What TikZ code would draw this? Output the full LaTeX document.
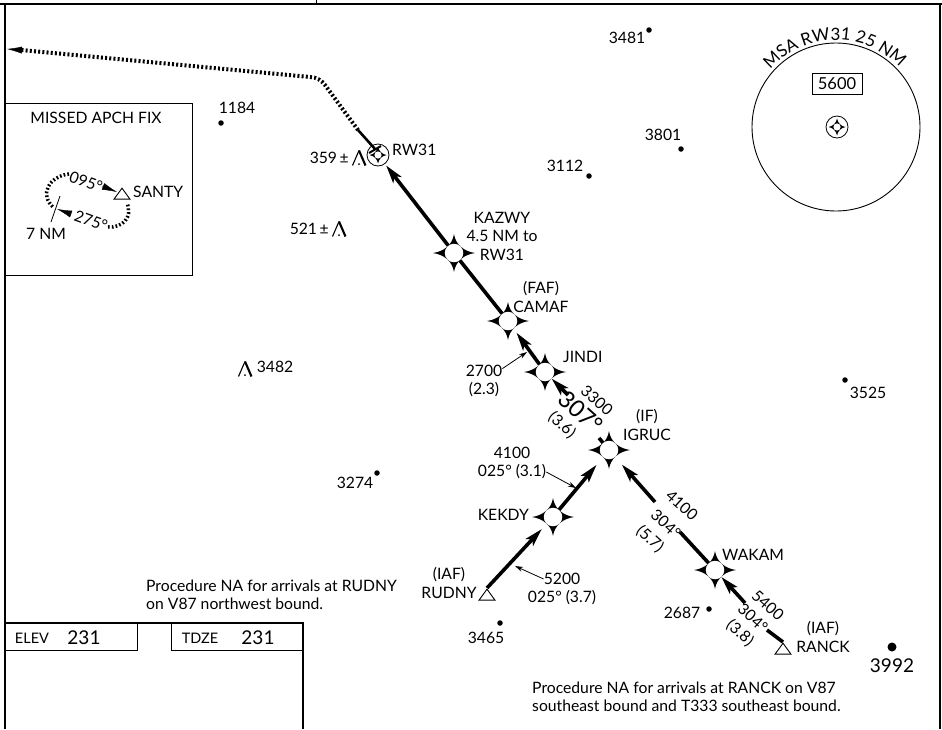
\documentclass[tikz,border=0pt]{standalone}
\usepackage{fontspec}
\setmainfont{Lato}
\usepackage{tikz}
\usetikzlibrary{arrows.meta, shapes.geometric, decorations.text}
\newcommand{\chartfont}{\fontsize{15.7}{18.5}\selectfont}
\newcommand{\msafont}{\fontsize{17}{20}\selectfont}
\tikzset{>={Stealth[length=18pt,width=10pt,inset=4pt]},
frameline/.style={line width=2.6pt},
thinbox/.style={line width=0.9pt},
legplain/.style={line width=3.6pt},
leg/.style={legplain,->},
leader/.style={line width=0.8pt,-{Stealth[length=8pt,width=5pt]}},
missdot/.style={line width=4pt,dash pattern=on 2pt off 2.2pt},
holddot/.style={line width=3.5pt,dash pattern=on 1.7pt off 2.1pt},
wedge/.style={line width=0.4pt,-{Latex[length=15pt,width=7pt]}},
lbl/.style={font=\chartfont,align=center,inner sep=0pt},
small/.style={lbl,font=\fontsize{14.5}{17}\selectfont},
big/.style={font=\fontsize{19}{22}\selectfont,inner sep=0pt},
along/.style={lbl,rotate=-42},
spot/.style={circle,fill=black,inner sep=0pt,minimum size=5.5pt},
fixpt/.style={circle,fill=white,inner sep=0pt,minimum size=18.5pt},
iaf/.style={isosceles triangle,isosceles triangle stretches,shape border rotate=90,draw,fill=white,
  line width=0.9pt,inner sep=0pt,minimum width=16pt,minimum height=11pt,anchor=apex},
fixstar/.pic={\fill (21,0) .. controls (10,-1.5) and (1.5,-8.5) .. (0,-19)
  .. controls (-1.5,-8.5) and (-10,-1.5) .. (-21,0)
  .. controls (-10,1.5) and (-1.5,8.5) .. (0,19)
  .. controls (1.5,8.5) and (10,1.5) .. (21,0) -- cycle;},
smallstar/.pic={\draw[line width=0.8pt] (0,0) circle (11);
  \fill (8.5,0) .. controls (4,-0.8) and (0.8,-4) .. (0,-8.5)
  .. controls (-0.8,-4) and (-4,-0.8) .. (-8.5,0)
  .. controls (-4,0.8) and (-0.8,4) .. (0,8.5)
  .. controls (0.8,4) and (4,0.8) .. (8.5,0) -- cycle;
  \fill[white] (0,0) circle (3.6);},
obst/.pic={\draw[line width=1.1pt] (-6.5,7.5) -- (0,-7.5);
  \draw[line width=2.1pt] (0,-7.5) -- (6.5,7.5);
  \fill (0,6) circle (1);}
}

\begin{document}
\begin{tikzpicture}[x=1pt,y=-1pt]
\useasboundingbox (0,0) rectangle (942,729);
\fill[white] (0,0) rectangle (942,729);
\draw[frameline] (0,4) -- (942,4);
\draw[frameline] (5,4) -- (5,729);
\draw[frameline] (940,4) -- (940,729);
\draw[line width=1pt] (316,0) -- (316,4);
\draw[frameline] (5,623) -- (303,623) -- (303,729);
\draw[thinbox] (5,650) -- (137,650) -- (137,623);
\draw[thinbox] (171,623) -- (171,650) -- (303,650);
\draw[thinbox] (5,103.5) -- (192,103.5) -- (192,275) -- (5,275);

\node[small] (lelev) at (32,638) {ELEV};
\node[big] (velev) at (84,638) {231};
\node[small] (ltdze) at (200,638) {TDZE};
\node[big] (vtdze) at (258,638) {231};
\node[lbl,align=left,anchor=west] (nanorth) at (146,595) {Procedure NA for arrivals at RUDNY\\on V87 northwest bound.};
\node[lbl,align=left,anchor=west] (nasouth) at (532,697) {Procedure NA for arrivals at RANCK on V87\\southeast bound and T333 southeast bound.};

\node[lbl] (lmissed) at (96,118) {MISSED APCH FIX};
\node[iaf] (santy) at (122,187) {};
\node[lbl,anchor=west] (lsanty) at (133,192) {SANTY};
\node[lbl,rotate=-20] (lout) at (86,182) {095°};
\node[lbl,rotate=-20] (lin) at (91,221) {275°};
\node[lbl] (lnm) at (46,234) {7 NM};
\coordinate (holda) at (69,174);
\coordinate (holdb) at (54,208);
\coordinate (holdc) at (108,227);
\coordinate (holdd) at (127,203);
\coordinate (arra) at (102,186);
\coordinate (arrc) at (117,192);
\coordinate (arrb) at (71,214);
\coordinate (arrd) at (57,209);
\coordinate (ticka) at (60,196);
\coordinate (tickb) at (51,222);
\draw[holddot] (holda) .. controls (50,176) and (38,194) .. (holdb);
\draw[holddot] (holdc) .. controls (122,228) and (133,218) .. (holdd);
\draw[wedge] (arra) -- (arrc);
\draw[wedge] (arrb) -- (arrd);
\draw[line width=0.8pt] (ticka) -- (tickb);

\node[circle,draw,line width=0.9pt,inner sep=0pt,minimum size=168pt] (msa) at (836,127) {};
\path[decorate,decoration={text along path,text align=center,
  text={|\msafont|MSA RW31 25 NM}}] (msa.center) ++(-141:87) arc[start angle=-141,end angle=-41,radius=87];
\node[lbl,draw,line width=0.9pt,minimum width=50pt,minimum height=21pt,font=\fontsize{16.5}{19}\selectfont] (msaalt) at (837,83.5) {5600};
\pic at (837,127) {smallstar};

\node[spot] (s3481) at (649,30) {};
\node[lbl] (l3481) at (627,38) {3481};
\node[spot] (s3801) at (681,149) {};
\node[lbl] (l3801) at (663,135) {3801};
\node[spot] (s3112) at (589,176) {};
\node[lbl] (l3112) at (565,166) {3112};
\node[spot] (s1184) at (221,123) {};
\node[lbl] (l1184) at (237,108) {1184};
\node[spot] (s3525) at (845,380) {};
\node[lbl] (l3525) at (868,393) {3525};
\node[spot] (s3274) at (377,473) {};
\node[lbl] (l3274) at (355,483) {3274};
\node[spot] (s2687) at (709,609) {};
\node[lbl] (l2687) at (682,613) {2687};
\node[spot] (s3465) at (500,623) {};
\node[lbl] (l3465) at (486,638) {3465};
\node[spot,minimum size=9pt] (s3992) at (892,647) {};
\node[big] (l3992) at (892,666) {3992};
\pic at (359,158) {obst};
\node[lbl,anchor=east] (l359) at (349,158) {359\,±};
\pic at (339,229) {obst};
\node[lbl,anchor=east] (l521) at (329,229) {521\,±};
\pic at (245,369) {obst};
\node[lbl] (l3482) at (275,367) {3482};

\pic at (378,155) {smallstar};
\coordinate (rwfix) at (378,155);
\node[circle,inner sep=0pt,minimum size=22pt] (rwthree) at (rwfix) {};
\node[lbl,anchor=west] (lrw) at (392,150) {RW31};
\pic at (454,253) {fixstar};
\node[fixpt] (kazwy) at (454,253) {};
\pic at (508,321) {fixstar};
\node[fixpt] (camaf) at (508,321) {};
\pic at (545,372) {fixstar};
\node[fixpt] (jindi) at (545,372) {};
\pic at (609,450) {fixstar};
\node[fixpt] (igruc) at (609,450) {};
\pic at (553,517) {fixstar};
\node[fixpt] (kekdy) at (553,517) {};
\pic at (715,570) {fixstar};
\node[fixpt] (wakam) at (715,570) {};
\node[iaf] (rudny) at (487,588) {};
\node[iaf] (ranck) at (783,642) {};

\coordinate (mstart) at (358,130);
\coordinate (mbend) at (325,85);
\coordinate (mrun) at (310,77);
\coordinate (mend) at (21,50);
\coordinate (mtip) at (7,49);
\coordinate (rwin) at (375,149);
\coordinate (barba) at (369,153);
\coordinate (barbb) at (381,146);
\draw[missdot] (mstart) -- (mbend) .. controls (321,80) and (317,77.5) .. (mrun) -- (mend);
\draw[wedge] (mend) -- (mtip);
\draw[line width=2.6pt] (mstart) -- (rwin);
\draw[line width=2pt] (barba) -- (barbb);

\coordinate (gapa) at (767,630);
\coordinate (gapb) at (745,603);
\coordinate (gapc) at (680,532);
\coordinate (gapd) at (655,502);
\coordinate (gape) at (599,438);
\coordinate (gapf) at (568,395);
\draw[legplain] (ranck.apex) -- (gapa);
\draw[leg] (gapb) -- (wakam);
\draw[legplain] (wakam) -- (gapc);
\draw[leg,shorten >=10pt] (gapd) -- (igruc);
\draw[legplain] (igruc) -- (gape);
\draw[leg] (gapf) -- (jindi);
\draw[leg,shorten >=5pt] (jindi) -- (camaf);
\draw[legplain] (camaf) -- (kazwy);
\draw[leg,shorten >=2pt] (kazwy) -- (rwthree);
\draw[leg,shorten >=7pt] (rudny.apex) -- (kekdy);
\draw[leg,shorten >=10pt] (kekdy) -- (igruc);

\node[lbl] (lkazwy) at (502,236) {KAZWY\\4.5 NM to\\RW31};
\node[lbl] (lcamaf) at (541,297) {(FAF)\\CAMAF};
\node[lbl,anchor=west] (ljindi) at (563,357) {JINDI};
\node[lbl] (ligruc) at (647,425) {(IF)\\IGRUC};
\node[lbl,anchor=east] (lkekdy) at (529,515) {KEKDY};
\node[lbl,anchor=west] (lwakam) at (722,555) {WAKAM};
\node[lbl] (lrudny) at (449,583) {(IAF)\\RUDNY};
\node[lbl] (lranck) at (823,637) {(IAF)\\RANCK};

\node[lbl] (l2700) at (484,381) {2700\\(2.3)};
\coordinate (t2700) at (527,352);
\draw[leader] (l2700) -- (t2700);
\node[lbl] (l4100up) at (512,453) {4100};
\node[lbl] (l025up) at (512,472) {025° (3.1)};
\coordinate (t025up) at (576,488);
\draw[leader] (l025up.east) -- (t025up);
\node[lbl] (l5200) at (562,579) {5200};
\node[lbl] (l025low) at (562,598) {025° (3.7)};
\coordinate (t5200) at (515,566);
\draw[leader] (l5200.west) -- (t5200);

\node[along] (l3300) at (597,400) {3300};
\node[along,font=\fontsize{23.5}{26}\selectfont] (l307) at (581,412) {307°};
\node[along] (l36) at (562,425) {(3.6)};
\node[along] (l4100) at (682,505) {4100};
\node[along] (l304a) at (666,524) {304°};
\node[along] (l57) at (650,539) {(5.7)};
\node[along] (l5400) at (768,605) {5400};
\node[along] (l304b) at (753,618) {304°};
\node[along] (l38) at (740,633) {(3.8)};
\end{tikzpicture}
\end{document}
